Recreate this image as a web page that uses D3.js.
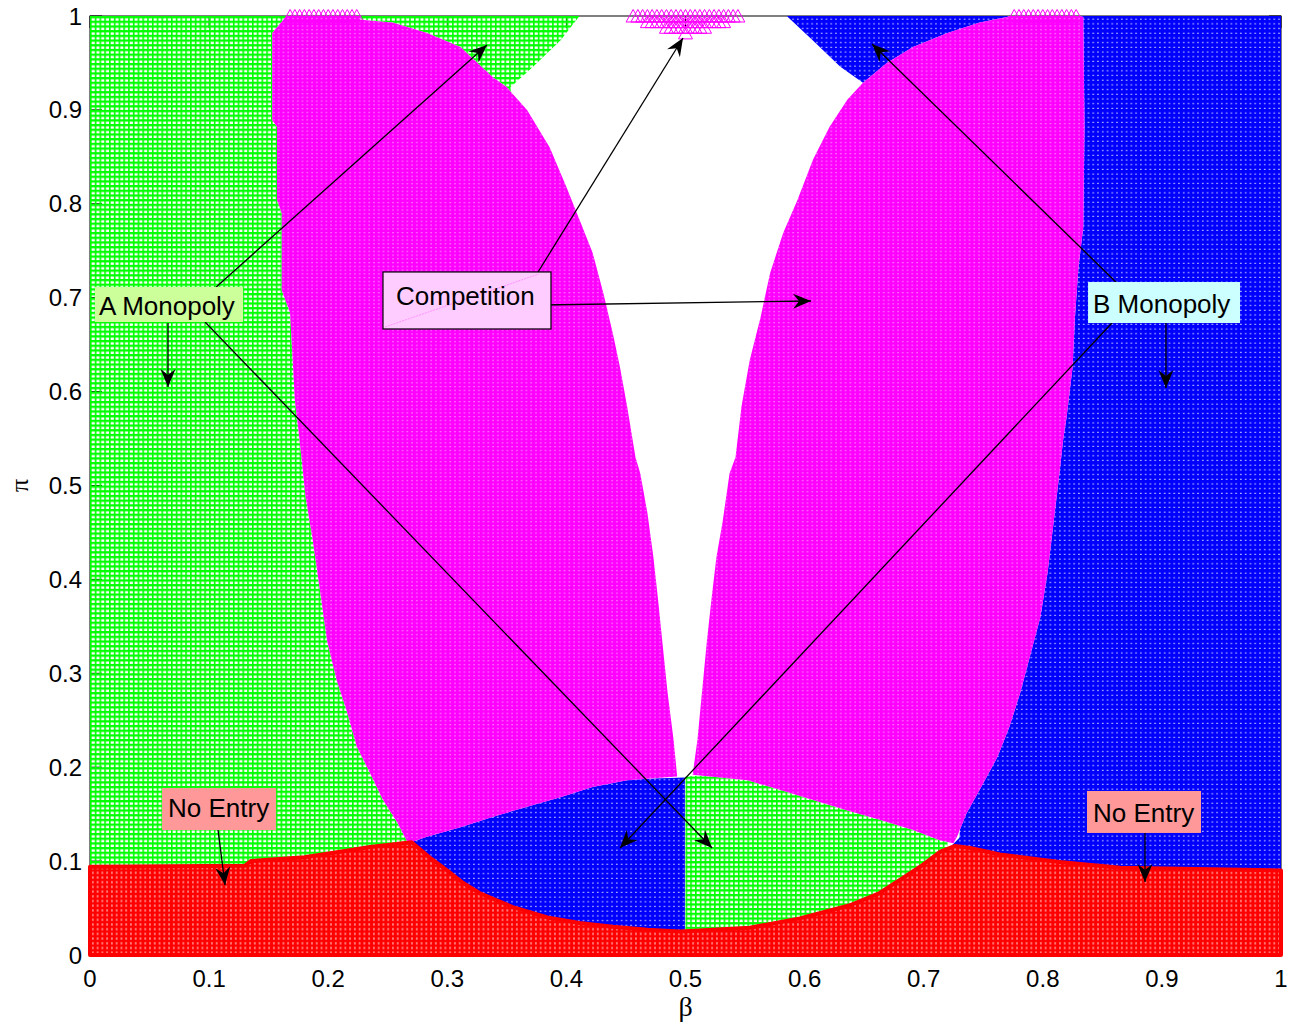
<!DOCTYPE html>
<html><head><meta charset="utf-8">
<script src="https://cdn.jsdelivr.net/npm/d3@7"></script>
<style>body{margin:0;background:#fff}svg{display:block}</style>
</head><body>
<svg id="chart" width="1296" height="1026"></svg>
<script>
// ---------- data (beta, pi) ----------
const xTicks = [0,0.1,0.2,0.3,0.4,0.5,0.6,0.7,0.8,0.9,1];
const yTicks = [0,0.1,0.2,0.3,0.4,0.5,0.6,0.7,0.8,0.9,1];
const xTickLabels = ["0","0.1","0.2","0.3","0.4","0.5","0.6","0.7","0.8","0.9","1"];
const yTickLabels = ["0","0.1","0.2","0.3","0.4","0.5","0.6","0.7","0.8","0.9","1"];

// A Monopoly (green) regions
const greenLeft = [[0,0],[0,1],[0.411,1],[0.395,0.974],[0.372,0.946],[0.353,0.924],[0.40,0.55],[0.47,0.17],[0.5,0.17],[0.5,0]];
const greenCenter = [[0.5,0],[0.5,0.19],[0.72,0.21],[0.72,0]];
// B Monopoly (blue) regions
const blueCenter = [[0.27,0.121],[0.32,0.165],[0.40,0.185],[0.4995,0.189],[0.4995,0],[0.285,0]];
const blueRight = [[1,0],[1,1],[0.585,1],[0.607,0.974],[0.630,0.946],[0.649,0.929],[0.75,0.5],[0.73,0.125],[0.72,0.112],[0.72,0]];
// Competition (magenta) lobes
const pinkLeft = [[0.165,1],[0.227,1],[0.227,0.996],[0.254,0.993],[0.283,0.982],[0.311,0.967],[0.338,0.935],[0.350,0.924],
  [0.367,0.900],[0.386,0.860],[0.400,0.818],[0.411,0.783],[0.422,0.748],[0.431,0.705],[0.439,0.662],[0.445,0.626],[0.451,0.584],
  [0.458,0.530],[0.462,0.513],[0.468,0.471],[0.473,0.424],[0.477,0.378],[0.481,0.328],[0.485,0.279],[0.490,0.229],[0.493,0.190],
  [0.451,0.186],[0.422,0.179],[0.395,0.168],[0.367,0.158],[0.338,0.147],[0.311,0.136],[0.283,0.126],[0.267,0.119],
  [0.258,0.141],[0.246,0.165],[0.235,0.194],[0.224,0.222],[0.216,0.258],[0.207,0.293],[0.199,0.335],[0.193,0.389],[0.187,0.442],
  [0.181,0.488],[0.176,0.548],[0.172,0.591],[0.168,0.684],[0.161,0.708],[0.161,0.790],[0.157,0.804],[0.157,0.882],[0.153,0.889],[0.153,0.982]];
const pinkRight = [[0.831,1],[0.834,0.999],[0.835,0.882],[0.834,0.775],[0.830,0.733],[0.827,0.679],[0.825,0.626],[0.820,0.573],
  [0.817,0.548],[0.814,0.513],[0.809,0.460],[0.804,0.407],[0.798,0.360],[0.789,0.317],[0.781,0.279],[0.772,0.243],[0.762,0.211],
  [0.747,0.176],[0.736,0.151],[0.728,0.126],[0.725,0.119],
  [0.714,0.122],[0.691,0.133],[0.663,0.144],[0.636,0.154],[0.607,0.165],[0.579,0.176],[0.552,0.186],[0.506,0.192],
  [0.510,0.229],[0.514,0.282],[0.518,0.335],[0.522,0.381],[0.526,0.424],[0.531,0.460],[0.537,0.513],[0.542,0.530],[0.547,0.584],
  [0.554,0.634],[0.563,0.679],[0.571,0.726],[0.582,0.769],[0.594,0.804],[0.607,0.847],[0.621,0.882],[0.636,0.911],[0.649,0.929],
  [0.669,0.950],[0.691,0.967],[0.720,0.982],[0.747,0.993],[0.770,0.999],[0.772,1]];
// No Entry (red) upper boundary
const redTop = [[0,0.094],[0.13,0.095],[0.135,0.1],[0.18,0.104],[0.21,0.11],[0.235,0.115],[0.27,0.12],[0.285,0.104],[0.30,0.09],
  [0.313,0.077],[0.327,0.066],[0.355,0.051],[0.384,0.04],[0.411,0.034],[0.439,0.03],[0.468,0.027],[0.495,0.025],[0.512,0.026],
  [0.554,0.029],[0.596,0.039],[0.638,0.053],[0.663,0.066],[0.68,0.08],[0.697,0.094],[0.714,0.11],[0.726,0.116],[0.739,0.114],
  [0.764,0.107],[0.814,0.099],[0.865,0.093],[1,0.09]];
// Competition markers sticking out at the top edge (rows of the sampling grid)
const triRows = [
  {pi:1.000, from:0.456, to:0.544},
  {pi:0.994, from:0.468, to:0.532},
  {pi:0.988, from:0.484, to:0.516},
  {pi:0.982, from:0.500, to:0.500},
  {pi:1.000, from:0.168, to:0.224},
  {pi:1.000, from:0.776, to:0.828}
];
const gridStep = 0.004;

// annotations (data coordinates)
const annotations = [
  {text:"A Monopoly", at:[0.0042,0.7114], w:148, h:35, tx:4, ty:28, fill:"#ccff99", border:false,
   arrows:[[[0.0966,0.7008],[0.3333,0.9691]],[[0.0966,0.6741],[0.5223,0.1140]],[[0.0655,0.6731],[0.0655,0.6049]]]},
  {text:"Competition", at:[0.2460,0.7274], w:168, h:57, tx:13, ty:33, fill:"#ffccff", border:true,
   arrows:[[[0.3762,0.7274],[0.4979,0.9766]],[[0.3795,0.6922],[0.6054,0.6965]]]},
  {text:"B Monopoly", at:[0.8380,0.7167], w:152, h:41, tx:5, ty:31, fill:"#ccffff", border:false,
   arrows:[[[0.8648,0.7125],[0.6566,0.9702]],[[0.8581,0.6731],[0.4450,0.1140]],[[0.9034,0.6731],[0.9034,0.6038]]]},
  {text:"No Entry", at:[0.0605,0.1778], w:114, h:42, tx:6, ty:29, fill:"#ff9999", border:false,
   arrows:[[[0.1075,0.1331],[0.1134,0.0745]]]},
  {text:"No Entry", at:[0.8371,0.1747], w:114, h:42, tx:6, ty:31, fill:"#ff9999", border:false,
   arrows:[[[0.8858,0.1299],[0.8858,0.0777]]]}
];

// ---------- drawing ----------
const svg = d3.select("#chart");
const x = d3.scaleLinear().domain([0,1]).range([90,1281]);
const y = d3.scaleLinear().domain([0,1]).range([955,16]);
const FONT = "'Liberation Sans', Arial, Helvetica, sans-serif";

const defs = svg.append("defs");
const cw = x(gridStep) - x(0);
const chG = y(0) - y(0.005);
const chP = y(0) - y(0.004);

function holePattern(id, color, w, h, hx, hy, hw, hh){
  const p = defs.append("pattern").attr("id",id).attr("patternUnits","userSpaceOnUse")
    .attr("width",w).attr("height",h).attr("x",x(0)).attr("y",y(1));
  p.append("path").attr("fill-rule","evenodd").attr("fill",color)
    .attr("d",`M0,0H${w}V${h}H0Z M${hx},${hy}h${hw}v${hh}h${-hw}Z`);
}
// green: "+" grid with large gaps
const pg = defs.append("pattern").attr("id","pGreen").attr("patternUnits","userSpaceOnUse")
  .attr("width",cw).attr("height",chG).attr("x",x(0)).attr("y",y(1));
pg.append("rect").attr("x",0).attr("y",0).attr("width",1.6).attr("height",chG).attr("fill","#00ff00");
pg.append("rect").attr("x",0).attr("y",0).attr("width",cw).attr("height",2.3).attr("fill","#00ff00");
holePattern("pBlue","#0000ff",cw,chG,2.2,2.6,1.2,1.2);
holePattern("pPink","#ff00ff",cw,chP,2.4,2.2,1.0,0.9);
holePattern("pRed","#ff0000",cw,chG,2.4,1.2,0.9,2.4);

const ah = defs.append("marker").attr("id","ah").attr("markerUnits","userSpaceOnUse")
  .attr("viewBox","-20 -10 22 20").attr("markerWidth",22).attr("markerHeight",20)
  .attr("refX",0).attr("refY",0).attr("orient","auto");
ah.append("path").attr("d","M0,0 L-18,-7.5 L-12,0 L-18,7.5 Z").attr("fill","#000");

// plot background
svg.append("rect").attr("x",x(0)).attr("y",y(1)).attr("width",x(1)-x(0)).attr("height",y(0)-y(1)).attr("fill","#fff");

// axes box and ticks (under the data, like MATLAB)
const axisG = svg.append("g");
axisG.append("rect").attr("x",x(0)).attr("y",y(1)).attr("width",x(1)-x(0)).attr("height",y(0)-y(1))
  .attr("fill","none").attr("stroke","#000").attr("stroke-width",1);
xTicks.forEach(t=>{
  axisG.append("line").attr("x1",x(t)).attr("x2",x(t)).attr("y1",y(0)).attr("y2",y(0)-12).attr("stroke","#000");
  axisG.append("line").attr("x1",x(t)).attr("x2",x(t)).attr("y1",y(1)).attr("y2",y(1)+12).attr("stroke","#000");
});
yTicks.forEach(t=>{
  axisG.append("line").attr("x1",x(0)).attr("x2",x(0)+12).attr("y1",y(t)).attr("y2",y(t)).attr("stroke","#000");
  axisG.append("line").attr("x1",x(1)).attr("x2",x(1)-12).attr("y1",y(t)).attr("y2",y(t)).attr("stroke","#000");
});

// regions (white underlay so gaps show white, like the marker gaps)
const poly = d3.line().x(d=>x(d[0])).y(d=>y(d[1]));
const regions = [
  [greenLeft,"url(#pGreen)",false],[greenCenter,"url(#pGreen)",true],
  [blueCenter,"url(#pBlue)",true],[blueRight,"url(#pBlue)",true],
  [pinkLeft,"url(#pPink)",true],[pinkRight,"url(#pPink)",true]
];
const regG = svg.append("g");
regions.forEach(([pts,fill,under])=>{
  const d = poly(pts)+"Z";
  if(under) regG.append("path").attr("d",d).attr("fill","#fff");
  regG.append("path").attr("d",d).attr("fill",fill);
});
const redArea = d3.area().x(d=>x(d[0])).y0(y(0)).y1(d=>y(d[1]));
regG.append("path").attr("d",redArea(redTop)).attr("fill","#fff")
  .attr("stroke","#ff0000").attr("stroke-width",4).attr("stroke-linejoin","round");
regG.append("path").attr("d",redArea(redTop)).attr("fill","url(#pRed)");

// triangle markers at top edge
const triPts = [];
triRows.forEach(r=>{
  const n = Math.round((r.to-r.from)/gridStep);
  for(let i=0;i<=n;i++) triPts.push([r.from+i*gridStep, r.pi]);
});
regG.selectAll("path.tri").data(triPts).join("path").attr("class","tri")
  .attr("d",d=>`M${x(d[0])},${y(d[1])-6.5} L${x(d[0])+7},${y(d[1])+6} L${x(d[0])-7},${y(d[1])+6} Z`)
  .attr("fill","none").attr("stroke","#ff00ff").attr("stroke-width",1);

// tick labels
const lab = svg.append("g").attr("font-family",FONT).attr("font-size",24).attr("fill","#000");
xTicks.forEach((t,i)=>{
  lab.append("text").attr("x",x(t)).attr("y",y(0)+32).attr("text-anchor","middle").text(xTickLabels[i]);
});
yTicks.forEach((t,i)=>{
  lab.append("text").attr("x",x(0)-8).attr("y",y(t)+8.5).attr("text-anchor","end").text(yTickLabels[i]);
});
svg.append("text").attr("x",(x(0)+x(1))/2).attr("y",1016).attr("text-anchor","middle")
  .attr("font-family","'Liberation Serif','DejaVu Serif',serif").attr("font-size",28).text("β");
svg.append("text").attr("transform",`translate(28,${(y(0)+y(1))/2}) rotate(-90)`).attr("text-anchor","middle")
  .attr("font-family","'Liberation Serif','DejaVu Serif',serif").attr("font-size",26).text("π");

// annotations: arrows first, then boxes
const annG = svg.append("g");
annotations.forEach(a=>{
  a.arrows.forEach(([s,e])=>{
    annG.append("line").attr("x1",x(s[0])).attr("y1",y(s[1])).attr("x2",x(e[0])).attr("y2",y(e[1]))
      .attr("stroke","#000").attr("stroke-width",1.3).attr("marker-end","url(#ah)");
  });
});
annotations.forEach(a=>{
  const bx = x(a.at[0]), by = y(a.at[1]);
  annG.append("rect").attr("x",bx).attr("y",by).attr("width",a.w).attr("height",a.h)
    .attr("fill",a.fill).attr("stroke",a.border?"#000":"none").attr("stroke-width",1.2);
  if(a.border){
    annG.append("line").attr("x1",bx+2).attr("y1",by+a.h-2).attr("x2",bx+a.w-12).attr("y2",by+2)
      .attr("stroke","#ff80ff").attr("stroke-width",0.8).attr("stroke-dasharray","2,1");
  }
  annG.append("text").attr("x",bx+a.tx).attr("y",by+a.ty).attr("font-family",FONT).attr("font-size",26)
    .attr("fill","#000").text(a.text);
});
</script>
</body></html>
